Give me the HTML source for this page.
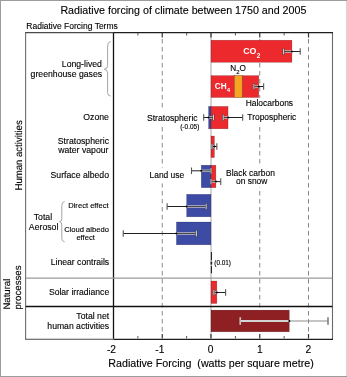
<!DOCTYPE html>
<html><head><meta charset="utf-8"><style>
html,body{margin:0;padding:0;background:#fff;}
svg{display:block;will-change:transform;}
</style></head><body>
<svg width="347" height="377" viewBox="0 0 347 377">
<rect x="0" y="0" width="347" height="377" fill="#fff"/>
<rect x="0" y="0" width="347" height="1" fill="#9c9c9c"/>
<rect x="0" y="0" width="1" height="377" fill="#9c9c9c"/>
<rect x="0" y="376" width="347" height="1" fill="#9c9c9c"/>
<rect x="346" y="1" width="1" height="375" fill="#d6d6d6"/>
<text stroke="#000" stroke-width="0.12" x="60.4" y="14.0" font-size="10.6" font-family="Liberation Sans, sans-serif" fill="#000" textLength="246.0" lengthAdjust="spacingAndGlyphs">Radiative forcing of climate between 1750 and 2005</text>
<text stroke="#000" stroke-width="0.12" x="26.3" y="28.9" font-size="8.5" font-family="Liberation Sans, sans-serif" fill="#000">Radiative Forcing Terms</text>
<line x1="162.25" y1="39" x2="162.25" y2="335" stroke="#8a8a8a" stroke-width="1" stroke-dasharray="4.5 3.5"/>
<line x1="259.75" y1="39" x2="259.75" y2="335" stroke="#8a8a8a" stroke-width="1" stroke-dasharray="4.5 3.5"/>
<line x1="308.5" y1="39" x2="308.5" y2="335" stroke="#8a8a8a" stroke-width="1" stroke-dasharray="4.5 3.5"/>
<line x1="211.0" y1="33" x2="211.0" y2="338" stroke="#b0b0b0" stroke-width="1.1"/>
<rect x="211.00" y="40.2" width="80.93" height="22.099999999999994" fill="#ec292c" stroke="#00000055" stroke-width="0.5"/>
<rect x="211.00" y="75.6" width="23.40" height="21.900000000000006" fill="#ec292c" stroke="#00000055" stroke-width="0.5"/>
<rect x="242.20" y="75.6" width="16.57" height="21.900000000000006" fill="#ec292c" stroke="#00000055" stroke-width="0.5"/>
<rect x="234.40" y="75.6" width="7.80" height="21.900000000000006" fill="#f6a523" stroke="#8a3a1a" stroke-width="0.5"/>
<rect x="208.56" y="106.4" width="2.44" height="22.400000000000006" fill="#3e4ba5" stroke="#00000055" stroke-width="0.5"/>
<rect x="211.00" y="106.4" width="17.06" height="22.400000000000006" fill="#ec292c" stroke="#00000055" stroke-width="0.5"/>
<rect x="211.00" y="136" width="3.41" height="21.599999999999994" fill="#ec292c" stroke="#00000055" stroke-width="0.5"/>
<rect x="201.25" y="165.2" width="9.75" height="22.5" fill="#3e4ba5" stroke="#00000055" stroke-width="0.5"/>
<rect x="211.00" y="165.2" width="4.88" height="22.5" fill="#ec292c" stroke="#00000055" stroke-width="0.5"/>
<rect x="186.62" y="194.3" width="24.38" height="22.5" fill="#3e4ba5" stroke="#00000055" stroke-width="0.5"/>
<rect x="176.39" y="222" width="34.61" height="22.80000000000001" fill="#3e4ba5" stroke="#00000055" stroke-width="0.5"/>
<rect x="211.00" y="281" width="5.85" height="22.5" fill="#ec292c" stroke="#00000055" stroke-width="0.5"/>
<rect x="211.00" y="310.1" width="78.29" height="21.69999999999999" fill="#8e1f22" stroke="#00000055" stroke-width="0.5"/>
<line x1="283.64" y1="51.5" x2="300.21" y2="51.5" stroke="#222" stroke-width="1.0"/>
<line x1="283.64" y1="51.5" x2="291.93" y2="51.5" stroke="#c8c8c8" stroke-width="2.4"/>
<line x1="283.64" y1="51.5" x2="291.93" y2="51.5" stroke="#3a3a3a" stroke-width="0.9"/>
<line x1="283.64" y1="48.2" x2="283.64" y2="54.8" stroke="#333" stroke-width="1.9"/>
<line x1="283.64" y1="48.6" x2="283.64" y2="54.4" stroke="#f2f2f2" stroke-width="0.9"/>
<line x1="300.21" y1="48.2" x2="300.21" y2="54.8" stroke="#555" stroke-width="1.1"/>
<circle cx="291.93" cy="51.5" r="1" fill="#000"/>
<line x1="253.90" y1="86.5" x2="263.65" y2="86.5" stroke="#222" stroke-width="1.0"/>
<line x1="253.90" y1="86.5" x2="258.77" y2="86.5" stroke="#c8c8c8" stroke-width="2.4"/>
<line x1="253.90" y1="86.5" x2="258.77" y2="86.5" stroke="#3a3a3a" stroke-width="0.9"/>
<line x1="253.90" y1="83.2" x2="253.90" y2="89.8" stroke="#333" stroke-width="1.9"/>
<line x1="253.90" y1="83.60000000000001" x2="253.90" y2="89.39999999999999" stroke="#f2f2f2" stroke-width="0.9"/>
<line x1="263.65" y1="83.2" x2="263.65" y2="89.8" stroke="#555" stroke-width="1.1"/>
<circle cx="258.77" cy="86.5" r="1" fill="#000"/>
<line x1="203.69" y1="117.5" x2="213.44" y2="117.5" stroke="#222" stroke-width="1.0"/>
<line x1="208.56" y1="117.5" x2="213.44" y2="117.5" stroke="#c8c8c8" stroke-width="2.4"/>
<line x1="208.56" y1="117.5" x2="213.44" y2="117.5" stroke="#3a3a3a" stroke-width="0.9"/>
<line x1="203.69" y1="114.2" x2="203.69" y2="120.8" stroke="#555" stroke-width="1.1"/>
<line x1="213.44" y1="114.2" x2="213.44" y2="120.8" stroke="#333" stroke-width="1.9"/>
<line x1="213.44" y1="114.60000000000001" x2="213.44" y2="120.39999999999999" stroke="#f2f2f2" stroke-width="0.9"/>
<circle cx="208.56" cy="117.5" r="1" fill="#000"/>
<line x1="223.19" y1="117.5" x2="242.69" y2="117.5" stroke="#222" stroke-width="1.0"/>
<line x1="223.19" y1="117.5" x2="228.06" y2="117.5" stroke="#c8c8c8" stroke-width="2.4"/>
<line x1="223.19" y1="117.5" x2="228.06" y2="117.5" stroke="#3a3a3a" stroke-width="0.9"/>
<line x1="223.19" y1="114.2" x2="223.19" y2="120.8" stroke="#333" stroke-width="1.9"/>
<line x1="223.19" y1="114.60000000000001" x2="223.19" y2="120.39999999999999" stroke="#f2f2f2" stroke-width="0.9"/>
<line x1="242.69" y1="114.2" x2="242.69" y2="120.8" stroke="#555" stroke-width="1.1"/>
<circle cx="228.06" cy="117.5" r="1" fill="#000"/>
<line x1="211.97" y1="146.5" x2="216.85" y2="146.5" stroke="#222" stroke-width="1.0"/>
<line x1="211.97" y1="146.5" x2="214.41" y2="146.5" stroke="#c8c8c8" stroke-width="2.4"/>
<line x1="211.97" y1="146.5" x2="214.41" y2="146.5" stroke="#3a3a3a" stroke-width="0.9"/>
<line x1="211.97" y1="143.2" x2="211.97" y2="149.8" stroke="#333" stroke-width="1.9"/>
<line x1="211.97" y1="143.6" x2="211.97" y2="149.4" stroke="#f2f2f2" stroke-width="0.9"/>
<line x1="216.85" y1="143.2" x2="216.85" y2="149.8" stroke="#555" stroke-width="1.1"/>
<circle cx="214.41" cy="146.5" r="1" fill="#000"/>
<line x1="191.50" y1="170.8" x2="211.00" y2="170.8" stroke="#222" stroke-width="1.0"/>
<line x1="201.25" y1="170.8" x2="211.00" y2="170.8" stroke="#c8c8c8" stroke-width="2.4"/>
<line x1="201.25" y1="170.8" x2="211.00" y2="170.8" stroke="#3a3a3a" stroke-width="0.9"/>
<line x1="191.50" y1="167.5" x2="191.50" y2="174.10000000000002" stroke="#555" stroke-width="1.1"/>
<line x1="211.00" y1="167.5" x2="211.00" y2="174.10000000000002" stroke="#333" stroke-width="1.9"/>
<line x1="211.00" y1="167.9" x2="211.00" y2="173.70000000000002" stroke="#f2f2f2" stroke-width="0.9"/>
<circle cx="201.25" cy="170.8" r="1" fill="#000"/>
<line x1="211.00" y1="181.6" x2="220.75" y2="181.6" stroke="#222" stroke-width="1.0"/>
<line x1="211.00" y1="181.6" x2="215.88" y2="181.6" stroke="#c8c8c8" stroke-width="2.4"/>
<line x1="211.00" y1="181.6" x2="215.88" y2="181.6" stroke="#3a3a3a" stroke-width="0.9"/>
<line x1="211.00" y1="178.29999999999998" x2="211.00" y2="184.9" stroke="#333" stroke-width="1.9"/>
<line x1="211.00" y1="178.7" x2="211.00" y2="184.5" stroke="#f2f2f2" stroke-width="0.9"/>
<line x1="220.75" y1="178.29999999999998" x2="220.75" y2="184.9" stroke="#555" stroke-width="1.1"/>
<circle cx="215.88" cy="181.6" r="1" fill="#000"/>
<line x1="167.12" y1="206.5" x2="206.12" y2="206.5" stroke="#222" stroke-width="1.0"/>
<line x1="186.62" y1="206.5" x2="206.12" y2="206.5" stroke="#c8c8c8" stroke-width="2.4"/>
<line x1="186.62" y1="206.5" x2="206.12" y2="206.5" stroke="#3a3a3a" stroke-width="0.9"/>
<line x1="167.12" y1="203.2" x2="167.12" y2="209.8" stroke="#555" stroke-width="1.1"/>
<line x1="206.12" y1="203.2" x2="206.12" y2="209.8" stroke="#333" stroke-width="1.9"/>
<line x1="206.12" y1="203.6" x2="206.12" y2="209.4" stroke="#f2f2f2" stroke-width="0.9"/>
<circle cx="186.62" cy="206.5" r="1" fill="#000"/>
<line x1="123.25" y1="233.5" x2="196.38" y2="233.5" stroke="#222" stroke-width="1.0"/>
<line x1="176.39" y1="233.5" x2="196.38" y2="233.5" stroke="#c8c8c8" stroke-width="2.4"/>
<line x1="176.39" y1="233.5" x2="196.38" y2="233.5" stroke="#3a3a3a" stroke-width="0.9"/>
<line x1="123.25" y1="230.2" x2="123.25" y2="236.8" stroke="#555" stroke-width="1.1"/>
<line x1="196.38" y1="230.2" x2="196.38" y2="236.8" stroke="#333" stroke-width="1.9"/>
<line x1="196.38" y1="230.6" x2="196.38" y2="236.4" stroke="#f2f2f2" stroke-width="0.9"/>
<circle cx="176.39" cy="233.5" r="1" fill="#000"/>
<line x1="213.93" y1="292.5" x2="225.62" y2="292.5" stroke="#222" stroke-width="1.0"/>
<line x1="213.93" y1="292.5" x2="216.85" y2="292.5" stroke="#c8c8c8" stroke-width="2.4"/>
<line x1="213.93" y1="292.5" x2="216.85" y2="292.5" stroke="#3a3a3a" stroke-width="0.9"/>
<line x1="213.93" y1="289.2" x2="213.93" y2="295.8" stroke="#333" stroke-width="1.9"/>
<line x1="213.93" y1="289.59999999999997" x2="213.93" y2="295.40000000000003" stroke="#f2f2f2" stroke-width="0.9"/>
<line x1="225.62" y1="289.2" x2="225.62" y2="295.8" stroke="#555" stroke-width="1.1"/>
<circle cx="216.85" cy="292.5" r="1" fill="#000"/>
<line x1="240.25" y1="321.0" x2="328.00" y2="321.0" stroke="#8c8c8c" stroke-width="1.1"/>
<line x1="240.25" y1="321.0" x2="289.29" y2="321.0" stroke="#d4d4d4" stroke-width="1.8"/>
<line x1="240.25" y1="317.2" x2="240.25" y2="324.8" stroke="#d4d4d4" stroke-width="1.6"/>
<line x1="240.25" y1="317.2" x2="240.25" y2="324.8" stroke="#00000044" stroke-width="0.5"/>
<line x1="328.00" y1="317.2" x2="328.00" y2="324.8" stroke="#8c8c8c" stroke-width="1.6"/>
<line x1="328.00" y1="317.2" x2="328.00" y2="324.8" stroke="#00000044" stroke-width="0.5"/>
<circle cx="289.29" cy="321.0" r="1" fill="#000"/>
<line x1="211.4" y1="252" x2="211.4" y2="260.4" stroke="#111" stroke-width="1"/>
<line x1="211.4" y1="265.8" x2="211.4" y2="273.3" stroke="#111" stroke-width="1"/>
<rect x="210.6" y="261.6" width="1.6" height="3" fill="#222"/>
<line x1="25.6" y1="32.6" x2="25.6" y2="339.3" stroke="#6e6e6e" stroke-width="1.1"/>
<line x1="332.5" y1="32.6" x2="332.5" y2="339.3" stroke="#6a6a6a" stroke-width="1.1"/>
<line x1="25.1" y1="32.6" x2="113.5" y2="32.6" stroke="#4a4a4a" stroke-width="1.1"/>
<line x1="113.5" y1="32.6" x2="333" y2="32.6" stroke="#1e1e1e" stroke-width="1.15"/>
<line x1="25.1" y1="339.3" x2="113.5" y2="339.3" stroke="#4a4a4a" stroke-width="1.1"/>
<line x1="113.5" y1="339.3" x2="333" y2="339.3" stroke="#1e1e1e" stroke-width="1.15"/>
<line x1="113.5" y1="32.6" x2="113.5" y2="338.8" stroke="#111" stroke-width="1.3"/>
<line x1="25.8" y1="278.1" x2="332.4" y2="278.1" stroke="#9a9a9a" stroke-width="1.4"/>
<line x1="25.8" y1="306.5" x2="332.4" y2="306.5" stroke="#111" stroke-width="1.4"/>
<line x1="137.875" y1="33" x2="137.875" y2="35.5" stroke="#555" stroke-width="1"/>
<line x1="137.875" y1="336" x2="137.875" y2="338.5" stroke="#555" stroke-width="1"/>
<line x1="186.625" y1="33" x2="186.625" y2="35.5" stroke="#555" stroke-width="1"/>
<line x1="186.625" y1="336" x2="186.625" y2="338.5" stroke="#555" stroke-width="1"/>
<line x1="235.375" y1="33" x2="235.375" y2="35.5" stroke="#555" stroke-width="1"/>
<line x1="235.375" y1="336" x2="235.375" y2="338.5" stroke="#555" stroke-width="1"/>
<line x1="284.125" y1="33" x2="284.125" y2="35.5" stroke="#555" stroke-width="1"/>
<line x1="284.125" y1="336" x2="284.125" y2="338.5" stroke="#555" stroke-width="1"/>
<line x1="162.25" y1="33" x2="162.25" y2="37.5" stroke="#333" stroke-width="1.2"/>
<line x1="162.25" y1="334" x2="162.25" y2="338.5" stroke="#333" stroke-width="1.2"/>
<line x1="211.0" y1="33" x2="211.0" y2="37.5" stroke="#333" stroke-width="1.2"/>
<line x1="211.0" y1="334" x2="211.0" y2="338.5" stroke="#333" stroke-width="1.2"/>
<line x1="259.75" y1="33" x2="259.75" y2="37.5" stroke="#333" stroke-width="1.2"/>
<line x1="259.75" y1="334" x2="259.75" y2="338.5" stroke="#333" stroke-width="1.2"/>
<line x1="308.5" y1="33" x2="308.5" y2="37.5" stroke="#333" stroke-width="1.2"/>
<line x1="308.5" y1="334" x2="308.5" y2="338.5" stroke="#333" stroke-width="1.2"/>
<text stroke="#000" stroke-width="0.12" x="101.9" y="67.2" font-size="8.7" font-family="Liberation Sans, sans-serif" fill="#000" text-anchor="end">Long-lived</text>
<text stroke="#000" stroke-width="0.12" x="102.1" y="76.7" font-size="8.7" font-family="Liberation Sans, sans-serif" fill="#000" text-anchor="end">greenhouse gases</text>
<text stroke="#000" stroke-width="0.12" x="108.9" y="120.0" font-size="8.7" font-family="Liberation Sans, sans-serif" fill="#000" text-anchor="end">Ozone</text>
<text stroke="#000" stroke-width="0.12" x="109.0" y="143.8" font-size="8.7" font-family="Liberation Sans, sans-serif" fill="#000" text-anchor="end">Stratospheric</text>
<text stroke="#000" stroke-width="0.12" x="108.5" y="153.2" font-size="8.7" font-family="Liberation Sans, sans-serif" fill="#000" text-anchor="end">water vapour</text>
<text stroke="#000" stroke-width="0.12" x="109.0" y="178.3" font-size="8.7" font-family="Liberation Sans, sans-serif" fill="#000" text-anchor="end">Surface albedo</text>
<text stroke="#000" stroke-width="0.12" x="108.6" y="207.9" font-size="7.6" font-family="Liberation Sans, sans-serif" fill="#000" text-anchor="end">Direct effect</text>
<text stroke="#000" stroke-width="0.12" x="108.9" y="231.5" font-size="7.6" font-family="Liberation Sans, sans-serif" fill="#000" text-anchor="end">Cloud albedo</text>
<text stroke="#000" stroke-width="0.12" x="85.6" y="239.6" font-size="7.6" font-family="Liberation Sans, sans-serif" fill="#000" text-anchor="middle">effect</text>
<text stroke="#000" stroke-width="0.12" x="42.9" y="219.5" font-size="8.7" font-family="Liberation Sans, sans-serif" fill="#000" text-anchor="middle">Total</text>
<text stroke="#000" stroke-width="0.12" x="43.6" y="229.9" font-size="8.7" font-family="Liberation Sans, sans-serif" fill="#000" text-anchor="middle">Aerosol</text>
<text stroke="#000" stroke-width="0.12" x="109.2" y="265.1" font-size="8.62" font-family="Liberation Sans, sans-serif" fill="#000" text-anchor="end">Linear contrails</text>
<text stroke="#000" stroke-width="0.12" x="109.2" y="294.8" font-size="8.62" font-family="Liberation Sans, sans-serif" fill="#000" text-anchor="end">Solar irradiance</text>
<text stroke="#000" stroke-width="0.12" x="109.2" y="318.6" font-size="8.7" font-family="Liberation Sans, sans-serif" fill="#000" text-anchor="end">Total net</text>
<text stroke="#000" stroke-width="0.12" x="109.2" y="329.0" font-size="8.65" font-family="Liberation Sans, sans-serif" fill="#000" text-anchor="end">human activities</text>
<path d="M110.7,41.5 Q107.6,42 107.6,46 L107.6,65.5 Q107.6,69 104.3,69.3 Q107.6,69.6 107.6,73 L107.6,92.4 Q107.6,96 110.7,96.1" fill="none" stroke="#9a9a9a" stroke-width="0.9"/>
<path d="M64.6,201.5 Q61.8,202 61.8,205.5 L61.8,218.5 Q61.8,221.5 59.6,221.7 Q61.8,222 61.8,225 L61.8,238.5 Q61.8,241.5 64.6,241.8" fill="none" stroke="#9a9a9a" stroke-width="0.9"/>
<text stroke="#000" stroke-width="0.12" transform="translate(21.5,190.5) rotate(-90)" text-rendering="geometricPrecision" font-size="9.9" font-family="Liberation Sans, sans-serif" fill="#000" textLength="70.2" lengthAdjust="spacingAndGlyphs">Human activities</text>
<text stroke="#000" stroke-width="0.12" transform="translate(9.8,309.6) rotate(-90)" text-rendering="geometricPrecision" font-size="9.6" font-family="Liberation Sans, sans-serif" fill="#000" textLength="30.9" lengthAdjust="spacingAndGlyphs">Natural</text>
<text stroke="#000" stroke-width="0.12" transform="translate(21.1,309.6) rotate(-90)" text-rendering="geometricPrecision" font-size="9.6" font-family="Liberation Sans, sans-serif" fill="#000" textLength="44.2" lengthAdjust="spacingAndGlyphs">processes</text>
<rect x="146" y="109" width="55" height="17.599999999999994" fill="#fff"/>
<rect x="244" y="98" width="54" height="28.599999999999994" fill="#fff"/>
<rect x="148" y="167.6" width="39" height="15.800000000000011" fill="#fff"/>
<rect x="224" y="166" width="54" height="21.400000000000006" fill="#fff"/>
<text stroke="#000" stroke-width="0.12" x="147.0" y="120.5" font-size="8.6" font-family="Liberation Sans, sans-serif" fill="#000" text-anchor="start">Stratospheric</text>
<text stroke="#000" stroke-width="0.12" x="180.2" y="129.4" font-size="6.5" font-family="Liberation Sans, sans-serif" fill="#000" text-anchor="start">(-0.05)</text>
<text stroke="#000" stroke-width="0.12" x="247.3" y="119.6" font-size="8.45" font-family="Liberation Sans, sans-serif" fill="#000" text-anchor="start">Tropospheric</text>
<text stroke="#000" stroke-width="0.12" x="245.7" y="106.1" font-size="8.45" font-family="Liberation Sans, sans-serif" fill="#000" text-anchor="start">Halocarbons</text>
<text stroke="#000" stroke-width="0.12" x="149.5" y="177.7" font-size="8.45" font-family="Liberation Sans, sans-serif" fill="#000" text-anchor="start">Land use</text>
<text stroke="#000" stroke-width="0.12" x="250.5" y="176.1" font-size="8.45" font-family="Liberation Sans, sans-serif" fill="#000" text-anchor="middle">Black carbon</text>
<text stroke="#000" stroke-width="0.12" x="251.7" y="183.7" font-size="8.45" font-family="Liberation Sans, sans-serif" fill="#000" text-anchor="middle">on snow</text>
<text stroke="#000" stroke-width="0.12" x="214.3" y="265.4" font-size="6.4" font-family="Liberation Sans, sans-serif" fill="#000" text-anchor="start">(0.01)</text>
<text x="243.2" y="54.1" font-size="8.9" font-weight="bold" font-family="Liberation Sans, sans-serif" fill="#fff">CO<tspan font-size="6.3" dy="3.4" dx="0.3">2</tspan></text>
<text x="214.8" y="88.8" font-size="8.2" font-weight="bold" font-family="Liberation Sans, sans-serif" fill="#fff">CH<tspan font-size="6" dy="3">4</tspan></text>
<text stroke="#000" stroke-width="0.12" x="230.3" y="71" font-size="8.2" font-family="Liberation Sans, sans-serif" fill="#000">N<tspan font-size="6" dy="2.6">2</tspan><tspan dy="-2.6">O</tspan></text>
<text stroke="#000" stroke-width="0.12" x="111.5" y="353.4" font-size="10.2" font-family="Liberation Sans, sans-serif" fill="#000" text-anchor="middle">-2</text>
<text stroke="#000" stroke-width="0.12" x="159.8" y="353.4" font-size="10.2" font-family="Liberation Sans, sans-serif" fill="#000" text-anchor="middle">-1</text>
<text stroke="#000" stroke-width="0.12" x="210.7" y="353.4" font-size="10.2" font-family="Liberation Sans, sans-serif" fill="#000" text-anchor="middle">0</text>
<text stroke="#000" stroke-width="0.12" x="259.9" y="353.4" font-size="10.2" font-family="Liberation Sans, sans-serif" fill="#000" text-anchor="middle">1</text>
<text stroke="#000" stroke-width="0.12" x="308.3" y="353.4" font-size="10.2" font-family="Liberation Sans, sans-serif" fill="#000" text-anchor="middle">2</text>
<text stroke="#000" stroke-width="0.12" x="108.3" y="367" font-size="10.7" font-family="Liberation Sans, sans-serif" fill="#000" textLength="205.4" lengthAdjust="spacing" xml:space="preserve">Radiative Forcing  (watts per square metre)</text>
</svg>
</body></html>
